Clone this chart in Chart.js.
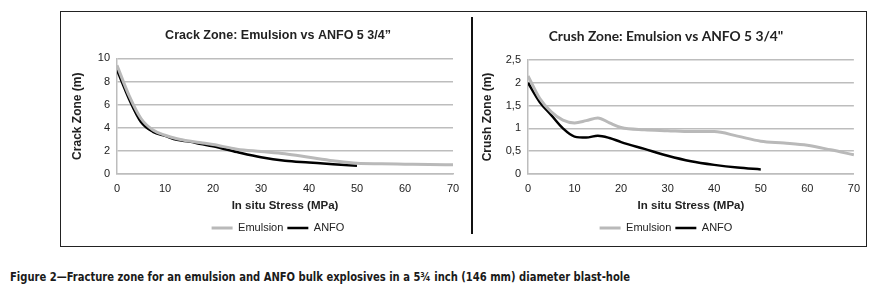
<!DOCTYPE html>
<html>
<head>
<meta charset="utf-8">
<script src="https://cdn.jsdelivr.net/npm/chart.js@4.4.0/dist/chart.umd.min.js"></script>
<style>
  html, body { margin: 0; padding: 0; background: #fff; }
  body { width: 876px; height: 290px; position: relative; overflow: hidden; }
  .frame { position: absolute; left: 60px; top: 11px; width: 807px; height: 236px; border: 1px solid #222; box-sizing: border-box; }
  .divider { position: absolute; left: 471px; top: 17px; width: 2px; height: 217px; background: #111; }
  .wrap { position: absolute; }
  #wrap-crack { left: 60px; top: 12px; width: 436px; height: 236px; }
  #wrap-crush { left: 478px; top: 12px; width: 390px; height: 236px; }
  .caption {
    position: absolute; left: 10px; top: 269px; white-space: nowrap;
    font-family: 'Liberation Sans Narrow', 'DejaVu Sans Condensed', sans-serif;
    font-size: 13px; line-height: 16px; font-weight: bold; color: #1a1a1a;
    transform-origin: left center;
  }
</style>
</head>
<body>
<div class="frame"></div>
<div class="divider"></div>
<div class="wrap" id="wrap-crack"><canvas id="crack"></canvas></div>
<div class="wrap" id="wrap-crush"><canvas id="crush"></canvas></div>
<div class="caption" id="caption">Figure 2—Fracture zone for an emulsion and ANFO bulk explosives in a 5¾ inch (146 mm) diameter blast-hole</div>
<script>
// ── DATA ──
const stress        = [0, 2.5, 5, 7.5, 10, 12.5, 15, 17.5, 20, 25, 30, 35, 40, 45, 50, 55, 60, 65, 70];

// crack zone (m)
const crackEmulsion = [9.4, 6.8, 4.8, 3.8, 3.35, 3.05, 2.85, 2.7, 2.55, 2.15, 1.95, 1.75, 1.45, 1.15, 0.92, 0.88, 0.85, 0.82, 0.8];
const crackAnfo     = [9.0, 6.5, 4.5, 3.65, 3.3, 2.95, 2.8, 2.6, 2.4, 1.9, 1.45, 1.15, 1.0, 0.85, 0.72];

// crush zone (m)
const crushEmulsion = [2.15, 1.66, 1.36, 1.18, 1.12, 1.17, 1.23, 1.12, 1.02, 0.97, 0.95, 0.93, 0.93, 0.83, 0.72, 0.68, 0.63, 0.53, 0.42];
const crushAnfo     = [2.0, 1.58, 1.29, 1.0, 0.82, 0.8, 0.84, 0.79, 0.7, 0.55, 0.4, 0.28, 0.2, 0.14, 0.1];

const crackTicks  = [0, 2, 4, 6, 8, 10];
const crushTicks  = [0, 0.5, 1, 1.5, 2, 2.5];
const crushLabels = ['0', '0,5', '1', '1,5', '2', '2,5'];
const stressTicks = [0, 10, 20, 30, 40, 50, 60, 70];

const seriesNames = ['Emulsion', 'ANFO'];

// ── STYLE ──
const C = {
  emulsion: '#b9b9b9',
  anfo:     '#000000',
  grid:     '#bdbdbd',
  text:     '#222222',
};
const FONT = "'Liberation Sans', Arial, sans-serif";

const pts = (ys) => ys.map((y, i) => ({ x: stress[i], y }));

function makeChart(id, opts) {
  return new Chart(document.getElementById(id), {
    type: 'line',
    data: {
      datasets: [
        {
          label: seriesNames[0],
          data: pts(opts.emulsion),
          borderColor: C.emulsion,
          backgroundColor: C.emulsion,
          borderWidth: 3,
          pointRadius: 0,
          cubicInterpolationMode: 'monotone',
          fill: false,
        },
        {
          label: seriesNames[1],
          data: pts(opts.anfo),
          borderColor: C.anfo,
          backgroundColor: C.anfo,
          borderWidth: 2.5,
          pointRadius: 0,
          cubicInterpolationMode: 'monotone',
          fill: false,
        },
      ]
    },
    options: {
      responsive: true,
      maintainAspectRatio: false,
      animation: false,
      layout: { padding: { left: 0, right: opts.padRight, top: 0, bottom: 4.5 } },
      plugins: {
        title: {
          display: true,
          text: opts.title,
          color: C.text,
          font: opts.titleFont,
          padding: { top: 16.2, bottom: 15.2 },
        },
        legend: {
          position: 'bottom',
          labels: {
            boxWidth: 21,
            boxHeight: 0,
            padding: 4,
            color: C.text,
            font: { family: FONT, size: 11 },
          }
        },
        tooltip: { enabled: false },
      },
      scales: {
        x: {
          type: 'linear',
          min: 0,
          max: 70,
          afterBuildTicks: s => { s.ticks = stressTicks.map(v => ({ value: v })); },
          afterFit: s => { s.height = 44.5; },
          ticks: { color: C.text, font: { family: FONT, size: 11 }, padding: 8, maxRotation: 0 },
          grid: { display: false, drawTicks: false },
          border: { color: C.grid, width: 1.5 },
          title: {
            display: true,
            text: 'In situ Stress (MPa)',
            color: C.text,
            font: { family: FONT, size: 11.5, weight: 'bold' },
            padding: { top: 0, bottom: 6 },
          }
        },
        y: {
          min: 0,
          max: opts.yMax,
          afterBuildTicks: s => { s.ticks = opts.yTicks.map(v => ({ value: v })); },
          afterFit: s => { s.width = opts.yWidth; },
          ticks: {
            color: C.text,
            font: { family: FONT, size: 11 },
            padding: 7,
            callback: (v, i) => opts.yLabels[i],
          },
          grid: { color: C.grid, lineWidth: 1.5, drawTicks: false },
          border: { color: C.grid, width: 1.5 },
          title: {
            display: true,
            text: opts.yTitle,
            color: C.text,
            font: { family: FONT, size: 12, weight: 'bold' },
            padding: { top: opts.yTitlePad, bottom: 0 },
          }
        },
        // empty right gutter so the title and legend centre where the figure has them
        gutter: {
          type: 'linear',
          position: 'right',
          display: opts.gutter > 0,
          afterFit: s => { s.width = opts.gutter; },
          ticks: { display: false },
          grid: { display: false, drawTicks: false },
          border: { display: false },
        }
      }
    }
  });
}

makeChart('crack', {
  title: 'Crack Zone: Emulsion vs ANFO 5 3/4\u201D',
  titleFont: { family: FONT, size: 12.5, weight: 'bold' },
  emulsion: crackEmulsion,
  anfo: crackAnfo,
  yMax: 10,
  yTicks: crackTicks,
  yLabels: crackTicks.map(String),
  yTitle: 'Crack Zone (m)',
  yTitlePad: 10,
  yWidth: 57,
  padRight: 0,
  gutter: 43,
});

makeChart('crush', {
  title: 'Crush Zone: Emulsion vs ANFO 5 3/4"',
  titleFont: { family: "Lato, 'Open Sans', sans-serif", size: 13.8, weight: 'bold' },
  emulsion: crushEmulsion,
  anfo: crushAnfo,
  yMax: 2.5,
  yTicks: crushTicks,
  yLabels: crushLabels,
  yTitle: 'Crush Zone (m)',
  yTitlePad: 2,
  yWidth: 50,
  padRight: 14,
  gutter: 0,
});

// squeeze the caption to the width it takes in the figure
const cap = document.getElementById('caption');
const capW = cap.getBoundingClientRect().width;
cap.style.transform = `scaleX(${620 / capW})`;
</script>
</body>
</html>
